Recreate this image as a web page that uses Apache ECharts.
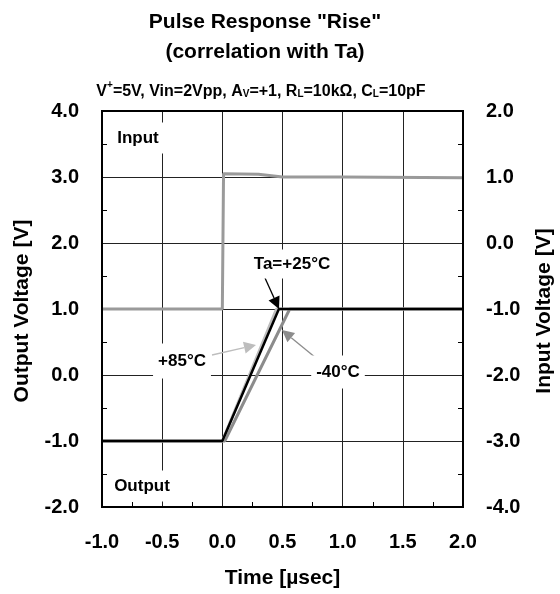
<!DOCTYPE html>
<html>
<head>
<meta charset="utf-8">
<script src="https://cdn.jsdelivr.net/npm/echarts@6/dist/echarts.min.js"></script>
<style>html,body{margin:0;padding:0;background:#fff}#c{width:560px;height:594px}</style>
</head>
<body>
<div id="c"></div>
<script>
// Data (time in µs)
const inputData = [[-1.0, -1.0], [0.0, -1.0], [0.01, 1.05], [0.3, 1.04], [0.5, 1.0], [1.0, 1.0], [2.0, 0.99]];
const out25 = [[-1.0, -1.0], [0.0, -1.0], [0.47, 1.0], [2.0, 1.0]];
const out85 = [[-1.0, -1.0], [0.0, -1.0], [0.45, 1.0], [2.0, 1.0]];
const outM40 = [[-1.0, -1.0], [0.02, -1.0], [0.56, 1.0], [2.0, 1.0]];
const xTicks = [-1.0, -0.5, 0.0, 0.5, 1.0, 1.5, 2.0];
const leftTicks = [-2, -1, 0, 1, 2, 3, 4];
const rightTicks = [-4, -3, -2, -1, 0, 1, 2];

const FONT = 'Liberation Sans, Arial, sans-serif';
const chart = echarts.init(document.getElementById('c'), null, {renderer: 'canvas'});
const lblStyle = {fontFamily: FONT, fontWeight: 'bold', fontSize: 20, color: '#000'};
function annot(text, x, y, pad) {
  return {type: 'text', x: x, y: y, z: 50,
    style: {text: text, fontFamily: FONT, fontWeight: 'bold', fontSize: 17, fill: '#000',
      align: 'center', verticalAlign: 'middle', backgroundColor: '#fff', padding: pad || [8, 5]}};
}
function arrow(p0, p1, color) {
  const dx = p1[0] - p0[0], dy = p1[1] - p0[1];
  const L = Math.sqrt(dx * dx + dy * dy), ux = dx / L, uy = dy / L;
  const hl = 12, hw = 6;
  const bx = p1[0] - ux * hl, by = p1[1] - uy * hl;
  return [
    {type: 'line', z: 40, shape: {x1: p0[0], y1: p0[1], x2: bx, y2: by}, style: {stroke: color, lineWidth: 1.3}},
    {type: 'polygon', z: 40, shape: {points: [[p1[0], p1[1]], [bx - uy * hw, by + ux * hw], [bx + uy * hw, by - ux * hw]]}, style: {fill: color}}
  ];
}
const nameStyle = {fontFamily: FONT, fontWeight: 'bold', fontSize: 21, fill: '#000', align: 'center', verticalAlign: 'middle'};

const option = {
  animation: false,
  backgroundColor: '#fff',
  grid: {left: 102, right: 97, top: 111, bottom: 83, show: true, borderColor: '#000', borderWidth: 2, z: 10},
  xAxis: {
    type: 'value', min: xTicks[0], max: xTicks[xTicks.length - 1], interval: 0.5,
    axisLine: {show: true, onZero: false, lineStyle: {color: '#000', width: 2}},
    axisTick: {show: false, inside: true},
    minorTick: {show: true, splitNumber: 2, length: 5, lineStyle: {color: '#000', width: 1}},
    splitLine: {show: true, lineStyle: {color: '#222', width: 1}},
    axisLabel: Object.assign({margin: 25, formatter: v => v.toFixed(1)}, lblStyle),
    name: 'Time [µsec]', nameLocation: 'middle', nameGap: 61,
    nameTextStyle: {fontFamily: FONT, fontWeight: 'bold', fontSize: 21, color: '#000'}
  },
  yAxis: [{
    type: 'value', min: leftTicks[0], max: leftTicks[leftTicks.length - 1], interval: 1,
    axisLine: {show: true, onZero: false, lineStyle: {color: '#000', width: 2}},
    axisTick: {show: false, inside: true},
    minorTick: {show: true, splitNumber: 2, length: 5, lineStyle: {color: '#000', width: 1}},
    splitLine: {show: true, lineStyle: {color: '#222', width: 1}},
    axisLabel: Object.assign({margin: 23, formatter: v => v.toFixed(1)}, lblStyle)
  }, {
    type: 'value', position: 'right', min: rightTicks[0], max: rightTicks[rightTicks.length - 1], interval: 1,
    axisLine: {show: true, onZero: false, lineStyle: {color: '#000', width: 2}},
    axisTick: {show: false, inside: true},
    minorTick: {show: true, splitNumber: 2, length: 5, lineStyle: {color: '#000', width: 1}},
    splitLine: {show: false},
    axisLabel: Object.assign({margin: 23, formatter: v => v.toFixed(1)}, lblStyle)
  }],
  series: [{
    type: 'line', yAxisIndex: 1, data: inputData, symbol: 'none', z: 3,
    lineStyle: {color: '#9a9a9a', width: 3}
  }, {
    type: 'line', yAxisIndex: 0, data: outM40, symbol: 'none', z: 4,
    lineStyle: {color: '#8c8c8c', width: 3}
  }, {
    type: 'line', yAxisIndex: 0, data: out85, symbol: 'none', z: 5,
    lineStyle: {color: '#bdbdbd', width: 3}
  }, {
    type: 'line', yAxisIndex: 0, data: out25, symbol: 'none', z: 6,
    lineStyle: {color: '#000', width: 2.5}
  }],
  graphic: [].concat(
    [{type: 'text', x: 265, y: 22, z: 50, style: Object.assign({}, nameStyle, {text: 'Pulse Response "Rise"'})},
     {type: 'text', x: 265, y: 52, z: 50, style: Object.assign({}, nameStyle, {text: '(correlation with Ta)'})},
     {type: 'text', x: 261, y: 90, z: 50, style: {
       text: '{n|V}{sup|+}{n|=5V, Vin=2Vpp, A}{sub|V}{n|=+1, R}{sub|L}{n|=10kΩ, C}{sub|L}{n|=10pF}',
       align: 'center', verticalAlign: 'middle',
       rich: {
         n: {fontFamily: FONT, fontWeight: 'bold', fontSize: 16, fill: '#000', verticalAlign: 'bottom', lineHeight: 19},
         sup: {fontFamily: FONT, fontWeight: 'bold', fontSize: 10, fill: '#000', verticalAlign: 'top', lineHeight: 19, padding: [0, 0, 8, 0]},
         sub: {fontFamily: FONT, fontWeight: 'bold', fontSize: 10, fill: '#000', verticalAlign: 'bottom', lineHeight: 19, padding: [5, 0, 0, 0]}
       }}},
     {type: 'text', x: 22, y: 311, rotation: Math.PI / 2, z: 50, style: Object.assign({text: 'Output Voltage [V]'}, nameStyle)},
     {type: 'text', x: 544, y: 311, rotation: Math.PI / 2, z: 50, style: Object.assign({text: 'Input Voltage [V]'}, nameStyle)},
     annot('Input', 138, 138, [7, 5]),
     annot('Output', 142, 486, [7, 5]),
     annot('Ta=+25°C', 292, 264, [6, 3]),
     annot('+85°C', 182, 361, [9, 5]),
     annot('-40°C', 338, 372, [8, 5])],
    arrow([265, 278], [279, 309], '#000'),
    arrow([212, 355], [256, 345], '#bdbdbd'),
    arrow([316, 358], [282, 330], '#8c8c8c')
  )
};
chart.setOption(option);
</script>
</body>
</html>
